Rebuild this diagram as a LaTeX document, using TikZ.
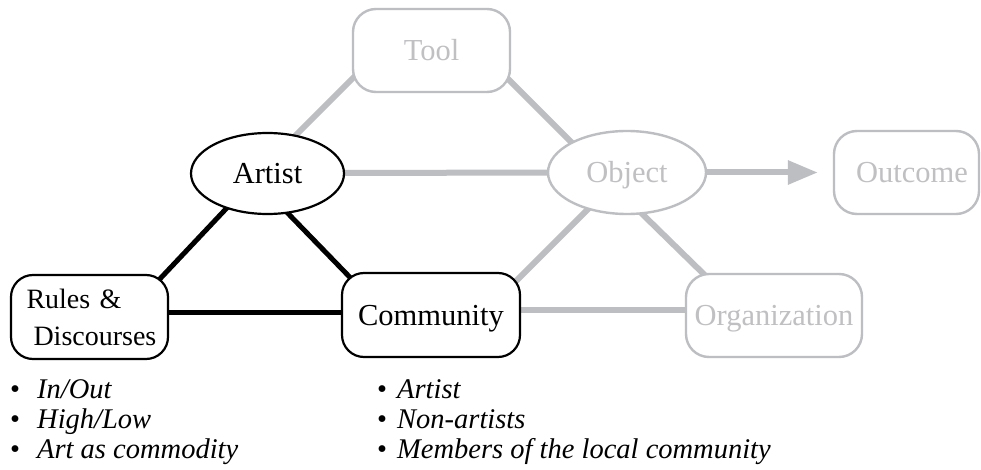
\documentclass[tikz,border=0pt]{standalone}
\usepackage{fontspec}
\setmainfont{Liberation Serif}
\usetikzlibrary{shapes.geometric,arrows.meta,calc,backgrounds}
\definecolor{lgray}{RGB}{189,190,193}
\definecolor{tgray}{RGB}{192,192,195}
\tikzset{
  nodefont/.style={font=\fontsize{30.5}{37}\selectfont},
  oneline/.style={text height=20pt, text depth=0pt},
  gbox/.style={rectangle, rounded corners=23pt, draw=lgray, line width=2.4pt, fill=white, text=tgray, inner sep=0pt, nodefont},
  bbox/.style={rectangle, rounded corners=22pt, draw=black, line width=2.2pt, fill=white, text=black, inner sep=0pt, nodefont},
  gell/.style={ellipse, draw=lgray, line width=2.4pt, fill=white, text=tgray, inner sep=0pt, nodefont, oneline},
  bell/.style={ellipse, draw=black, line width=2.2pt, fill=white, text=black, inner sep=0pt, nodefont, oneline},
  gline/.style={draw=lgray, line width=6pt},
  bline/.style={draw=black, line width=5pt},
  bul/.style={anchor=base west, inner sep=0pt, font=\fontsize{28.5}{30}\selectfont\itshape}
}
\begin{document}
\begin{tikzpicture}[x=1pt,y=-1pt]
\useasboundingbox (0,0) rectangle (981,470);
% nodes
\node[gbox, oneline, minimum width=157pt, minimum height=83pt] (tool) at (431.5,50.5) {Tool};
\node[bell, minimum width=153pt, minimum height=81pt] (artist) at (267.5,173.5) {Artist};
\node[gell, minimum width=158pt, minimum height=83pt] (object) at (627,172.5) {Object};
\node[gbox, oneline, minimum width=145pt, minimum height=83pt] (outcome) at (906.5,172.5) {\hspace*{11pt}Outcome};
\node[bbox, minimum width=157pt, minimum height=84pt, text width=156pt, align=left, font=\fontsize{28}{37}\selectfont] (rules) at (89.5,317) {\hspace*{15pt}Rules \&\\\hspace*{22pt}Discourses};
\node[bbox, oneline, minimum width=178pt, minimum height=84pt] (community) at (431,315) {Community};
\node[gbox, oneline, minimum width=176pt, minimum height=83pt] (organization) at (774,315.5) {Organization};
% connectors
\begin{scope}[on background layer]
\fill[white] (0,0) rectangle (981,470);
\draw[gline] ($(tool)+(-61.5,10.5)$) -- ($(artist)+(22.5,-32.5)$);
\draw[gline] ($(tool)+(58.5,10.5)$) -- ($(object)+(-37,-11.5)$);
\draw[gline] ($(artist)+(0,-0.5)$) -- (object);
\draw[gline] ($(object)+(-27,24.5)$) -- ($(community)+(69,-18)$);
\draw[gline] ($(object)+(3,29.5)$) -- ($(organization)+(-54,-25.5)$);
\draw[gline] ($(community)+(0,-5)$) -- ($(organization)+(0,-5.5)$);
\draw[bline] ($(artist)+(-27.5,20.5)$) -- ($(rules)+(50.5,-17)$);
\draw[bline] ($(artist)+(7.5,26.5)$) -- ($(community)+(-61,-17)$);
\draw[bline] ($(rules)+(0,-5)$) -- ($(community)+(0,-3)$);
\end{scope}
\draw[gline, -{Triangle[length=30pt,width=23pt]}] (object.east) -- ($(outcome.west)+(-15,0)$);
% bullet lists
\node[bul] (l1) at (10,398) {\makebox[27pt][l]{\upshape•}In/Out};
\node[bul] (l2) at (10,428) {\makebox[27pt][l]{\upshape•}High/Low};
\node[bul] (l3) at (10,458) {\makebox[27pt][l]{\upshape•}Art as commodity};
\node[bul] (r1) at (377,398) {\makebox[20pt][l]{\upshape•}Artist};
\node[bul] (r2) at (377,428) {\makebox[20pt][l]{\upshape•}Non-artists};
\node[bul] (r3) at (377,458) {\makebox[20pt][l]{\upshape•}Members of the local community};
\end{tikzpicture}
\end{document}
